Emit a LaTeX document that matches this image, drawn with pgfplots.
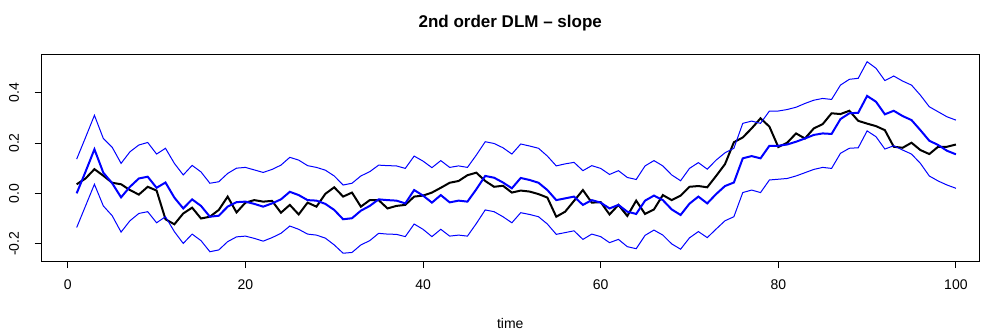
\documentclass[border=0pt]{standalone}
\usepackage{fontspec}
\setmainfont{Liberation Sans}
\usepackage{pgfplots}
\usepackage{pgfplotstable}
\pgfplotsset{compat=1.18}
\pgfplotstableread{
t est upper lower truth
1 0.000 0.136 -0.136 0.036
2 0.086 0.222 -0.050 0.059
3 0.175 0.310 0.036 0.096
4 0.082 0.218 -0.050 0.070
5 0.040 0.183 -0.089 0.042
6 -0.016 0.119 -0.154 0.036
7 0.026 0.165 -0.109 0.013
8 0.059 0.192 -0.080 -0.005
9 0.066 0.202 -0.073 0.026
10 0.022 0.156 -0.117 0.011
11 0.043 0.179 -0.093 -0.103
12 -0.017 0.119 -0.152 -0.123
13 -0.060 0.073 -0.199 -0.080
14 -0.024 0.111 -0.162 -0.057
15 -0.050 0.085 -0.188 -0.100
16 -0.093 0.040 -0.232 -0.093
17 -0.089 0.046 -0.225 -0.066
18 -0.053 0.079 -0.192 -0.013
19 -0.035 0.100 -0.173 -0.076
20 -0.033 0.103 -0.170 -0.037
21 -0.042 0.093 -0.179 -0.027
22 -0.053 0.083 -0.190 -0.033
23 -0.040 0.095 -0.176 -0.030
24 -0.024 0.112 -0.159 -0.077
25 0.006 0.143 -0.130 -0.046
26 -0.007 0.132 -0.143 -0.084
27 -0.027 0.110 -0.162 -0.037
28 -0.029 0.103 -0.166 -0.053
29 -0.042 0.092 -0.178 -0.002
30 -0.066 0.069 -0.205 0.024
31 -0.103 0.033 -0.238 -0.013
32 -0.099 0.040 -0.235 0.003
33 -0.069 0.069 -0.205 -0.053
34 -0.050 0.086 -0.188 -0.027
35 -0.024 0.112 -0.159 -0.027
36 -0.027 0.110 -0.162 -0.060
37 -0.029 0.109 -0.163 -0.050
38 -0.040 0.099 -0.172 -0.046
39 0.013 0.148 -0.122 -0.013
40 -0.009 0.128 -0.143 -0.009
41 -0.037 0.102 -0.172 0.003
42 -0.007 0.130 -0.143 0.022
43 -0.036 0.103 -0.170 0.042
44 -0.029 0.109 -0.166 0.049
45 -0.033 0.103 -0.170 0.072
46 0.016 0.152 -0.120 0.082
47 0.069 0.205 -0.066 0.049
48 0.062 0.198 -0.073 0.026
49 0.043 0.181 -0.093 0.030
50 0.020 0.156 -0.117 0.003
51 0.061 0.196 -0.077 0.011
52 0.053 0.188 -0.084 0.007
53 0.042 0.179 -0.093 -0.003
54 0.013 0.148 -0.122 -0.017
55 -0.027 0.109 -0.163 -0.093
56 -0.020 0.117 -0.156 -0.073
57 -0.013 0.123 -0.149 -0.030
58 -0.046 0.090 -0.183 0.013
59 -0.027 0.110 -0.162 -0.037
60 -0.037 0.099 -0.172 -0.035
61 -0.060 0.075 -0.196 -0.084
62 -0.046 0.090 -0.183 -0.046
63 -0.073 0.063 -0.212 -0.090
64 -0.082 0.055 -0.220 -0.029
65 -0.029 0.109 -0.167 -0.082
66 -0.009 0.130 -0.146 -0.064
67 -0.027 0.109 -0.166 -0.007
68 -0.064 0.073 -0.201 -0.027
69 -0.086 0.050 -0.222 -0.009
70 -0.041 0.099 -0.177 0.026
71 -0.013 0.122 -0.152 0.029
72 -0.040 0.096 -0.176 0.024
73 -0.003 0.132 -0.142 0.069
74 0.029 0.161 -0.109 0.116
75 0.043 0.179 -0.093 0.203
76 0.139 0.278 0.003 0.222
77 0.148 0.287 0.013 0.258
78 0.139 0.278 0.003 0.298
79 0.189 0.327 0.053 0.265
80 0.189 0.327 0.056 0.184
81 0.194 0.333 0.059 0.201
82 0.205 0.342 0.069 0.238
83 0.218 0.357 0.082 0.218
84 0.232 0.370 0.095 0.258
85 0.238 0.377 0.103 0.275
86 0.236 0.373 0.099 0.318
87 0.295 0.430 0.159 0.315
88 0.318 0.453 0.179 0.328
89 0.320 0.457 0.181 0.288
90 0.387 0.523 0.248 0.277
91 0.364 0.497 0.225 0.267
92 0.314 0.448 0.176 0.251
93 0.328 0.466 0.189 0.185
94 0.307 0.446 0.172 0.181
95 0.291 0.430 0.156 0.201
96 0.251 0.390 0.119 0.172
97 0.209 0.344 0.069 0.156
98 0.192 0.324 0.049 0.185
99 0.169 0.304 0.033 0.185
100 0.155 0.291 0.020 0.194
}\dlmdata
\begin{document}
\begin{tikzpicture}[x=1pt,y=1pt]
\useasboundingbox (0,0) rectangle (984,335);
\begin{axis}[
  at={(41.5pt,74pt)}, anchor=south west,
  scale only axis, width=937.5pt, height=207pt,
  xmin=-2.96, xmax=102.6, ymin=-0.2689, ymax=0.5536,
  xtick={0,20,40,60,80,100},
  xticklabels={0,20,40,60,80,100},
  ytick={-0.2,0,0.2,0.4},
  yticklabels={-0.2,0.0,0.2,0.4},
  /pgf/number format/assume math mode=true,
  tick pos=left, tick align=outside, major tick length=7pt,
  every tick/.style={black, line width=0.9pt},
  axis line style={black, line width=0.9pt},
  ticklabel style={font=\fontsize{14}{16}\selectfont},
  xticklabel style={anchor=center, yshift=-17pt},
  yticklabel style={xshift=-12pt, rotate=90, anchor=south},
  title={2nd order DLM – slope},
  title style={font=\bfseries\fontsize{17}{20}\selectfont, at={(axis description cs:0.5,1)}, anchor=center, yshift=25pt},
  xlabel={time},
  xlabel style={font=\fontsize{14}{16}\selectfont, at={(axis description cs:0.5,0)}, anchor=center, yshift=-62pt},
  clip=true,
]
\addplot[black, line width=2pt] table[x=t, y=truth] {\dlmdata};
\addplot[blue, line width=2pt] table[x=t, y=est] {\dlmdata};
\addplot[blue, line width=1pt] table[x=t, y=upper] {\dlmdata};
\addplot[blue, line width=1pt] table[x=t, y=lower] {\dlmdata};
\end{axis}
\end{tikzpicture}
\end{document}
